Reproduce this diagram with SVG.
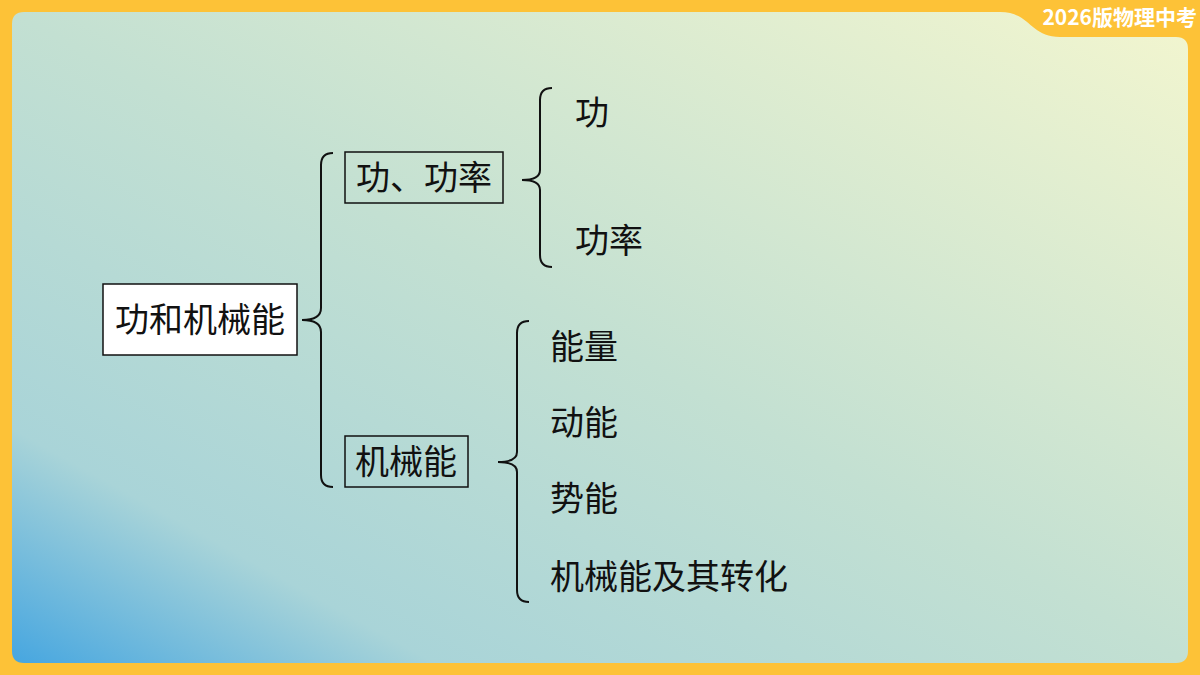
<svg xmlns="http://www.w3.org/2000/svg" width="1200" height="675" viewBox="0 0 1200 675">
<defs>
<linearGradient id="bg" x1="0" y1="1" x2="1" y2="0">
<stop offset="0" stop-color="#46a6e0"/>
<stop offset="0.18" stop-color="#a9d4d8"/>
<stop offset="0.5" stop-color="#c3e0d2"/>
<stop offset="1" stop-color="#f3f6cf"/>
</linearGradient>
<style>
.t{font-family:"Noto Sans CJK SC","Noto Sans",sans-serif;font-size:34px;fill:#111}
.b{fill:none;stroke:#111;stroke-width:2}
.box{stroke:#111;stroke-width:1.5}
</style>
</defs>
<rect width="1200" height="675" fill="#fdc237"/>
<path d="M24 12 H1000 C1030 12 1030 37 1060 37 H1176 Q1188 37 1188 49 V651 Q1188 663 1176 663 H24 Q12 663 12 651 V24 Q12 12 24 12 Z" fill="url(#bg)"/>
<text x="1197" y="25" text-anchor="end" font-family="'Noto Sans CJK SC',sans-serif" font-size="21" font-weight="bold" fill="#fff">2026版物理中考</text>
<g id="root"><rect class="box" x="103" y="284" width="194" height="71" fill="#fff"/><text class="t" x="200" y="332" text-anchor="middle">功和机械能</text></g>
<g id="n1"><rect class="box" x="345" y="152" width="158" height="51" fill="none"/><text class="t" x="424" y="190" text-anchor="middle">功、功率</text></g>
<g id="n2"><rect class="box" x="345" y="436" width="123" height="51" fill="none"/><text class="t" x="406" y="474" text-anchor="middle">机械能</text></g>
<g id="l1"><text class="t" x="575" y="125">功</text></g>
<g id="l2"><text class="t" x="575" y="253">功率</text></g>
<g id="l3"><text class="t" x="550" y="359">能量</text></g>
<g id="l4"><text class="t" x="550" y="435">动能</text></g>
<g id="l5"><text class="t" x="550" y="511">势能</text></g>
<g id="l6"><text class="t" x="550" y="589">机械能及其转化</text></g>
<g id="connectors">
<path class="b" d="M333 153 Q321 153 321 165 V308 Q321 320 302 320 Q321 320 321 332 V475 Q321 487 333 487"/>
<path class="b" d="M552 88 Q540 88 540 100 V170 Q540 180 522 180 Q540 180 540 190 V255 Q540 267 552 267"/>
<path class="b" d="M529 321 Q517 321 517 333 V452 Q517 462 498 462 Q517 462 517 472 V590 Q517 602 529 602"/>
</g>
</svg>
